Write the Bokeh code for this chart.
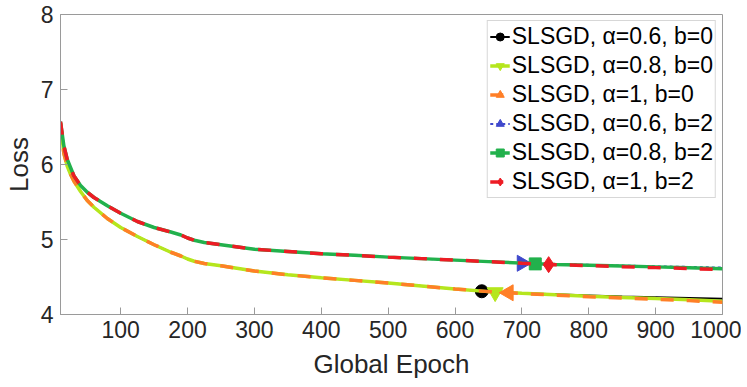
from bokeh.plotting import figure
from bokeh.models import Range1d, FixedTicker, Legend, LegendItem
from bokeh.embed import file_html
from bokeh.resources import INLINE
import math

epochs = [10, 15, 20, 25, 30, 40, 50, 60, 80, 100, 125, 150, 175, 190, 200, 210, 225, 250,
          300, 350, 400, 450, 500, 550, 600, 650, 700, 750, 800, 850, 900, 950, 1000]

loss_a06_b0 = [6.55, 6.15, 5.98, 5.87, 5.78, 5.64, 5.52, 5.43, 5.28, 5.16, 5.04, 4.93, 4.83, 4.78, 4.74, 4.71, 4.68, 4.65,
               4.58, 4.53, 4.49, 4.455, 4.42, 4.38, 4.34, 4.305, 4.285, 4.27, 4.255, 4.24, 4.23, 4.22, 4.21]
loss_a08_b0 = [6.55, 6.15, 5.98, 5.87, 5.78, 5.64, 5.52, 5.43, 5.28, 5.16, 5.04, 4.93, 4.83, 4.78, 4.74, 4.71, 4.68, 4.65,
               4.58, 4.53, 4.49, 4.455, 4.42, 4.38, 4.34, 4.305, 4.283, 4.262, 4.243, 4.228, 4.212, 4.197, 4.178]
loss_a1_b0 = [6.55, 6.15, 5.98, 5.87, 5.78, 5.64, 5.52, 5.43, 5.28, 5.16, 5.04, 4.93, 4.83, 4.78, 4.74, 4.71, 4.68, 4.65,
              4.58, 4.53, 4.49, 4.455, 4.42, 4.38, 4.34, 4.305, 4.28, 4.258, 4.238, 4.22, 4.203, 4.185, 4.162]
loss_a06_b2 = [6.57, 6.25, 6.07, 5.96, 5.85, 5.72, 5.63, 5.56, 5.45, 5.35, 5.24, 5.16, 5.10, 5.06, 5.02, 4.99, 4.96, 4.93,
               4.87, 4.84, 4.81, 4.79, 4.765, 4.745, 4.725, 4.705, 4.685, 4.672, 4.662, 4.652, 4.642, 4.634, 4.625]
loss_a08_b2 = [6.57, 6.25, 6.07, 5.96, 5.85, 5.72, 5.63, 5.56, 5.45, 5.35, 5.24, 5.16, 5.10, 5.06, 5.02, 4.99, 4.96, 4.93,
               4.87, 4.84, 4.81, 4.79, 4.765, 4.745, 4.725, 4.705, 4.685, 4.668, 4.657, 4.646, 4.635, 4.624, 4.61]
loss_a1_b2 = [6.57, 6.25, 6.07, 5.96, 5.85, 5.72, 5.63, 5.56, 5.45, 5.35, 5.24, 5.16, 5.10, 5.06, 5.02, 4.99, 4.96, 4.93,
              4.87, 4.84, 4.81, 4.79, 4.765, 4.745, 4.725, 4.705, 4.683, 4.664, 4.652, 4.638, 4.625, 4.613, 4.598]

marker_x = [640, 660, 680, 700, 720, 740]
marker_y = [4.31, 4.295, 4.29, 4.683, 4.675, 4.665]

labels = ["SLSGD, α=0.6, b=0", "SLSGD, α=0.8, b=0", "SLSGD, α=1, b=0",
          "SLSGD, α=0.6, b=2", "SLSGD, α=0.8, b=2", "SLSGD, α=1, b=2"]

x_ticks = [100, 200, 300, 400, 500, 600, 700, 800, 900, 1000]
y_ticks = [4, 5, 6, 7, 8]

series = [loss_a06_b0, loss_a08_b0, loss_a1_b0, loss_a06_b2, loss_a08_b2, loss_a1_b2]
colors = ["#000000", "#b5e61d", "#ff7f27", "#3f48cc", "#22b14c", "#ed1c24"]
widths = [2, 3.5, 3.5, 2, 3.5, 3.5]
dashes = ["solid", "solid", "13 13", "3 3", "solid", "13 13"]
markers = ["circle", "inverted_triangle", "triangle", "triangle", "square", "diamond"]
angles = [0, 0, math.pi / 2, -math.pi / 2, 0, 0]
msizes = [13, 16, 16, 16, 12, 16]

FONT = "Liberation Sans"
AXC = "#9a9a9a"
TXC = "#262626"

p = figure(frame_width=662, frame_height=300, output_backend="svg", toolbar_location=None,
           x_range=Range1d(10, 1000), y_range=Range1d(4, 8),
           min_border_left=48, min_border_right=19, min_border_top=14, min_border_bottom=60)
p.background_fill_color = "white"
p.border_fill_color = "white"
p.outline_line_color = AXC
p.xgrid.visible = False
p.ygrid.visible = False

def style_axis(ax):
    ax.axis_line_color = AXC
    ax.major_tick_line_color = AXC
    ax.major_tick_in = 7
    ax.major_tick_out = 0
    ax.minor_tick_line_color = None
    ax.major_label_text_font = FONT
    ax.major_label_text_color = TXC
    ax.axis_label_text_font = FONT
    ax.axis_label_text_color = TXC
    ax.axis_label_text_font_style = "normal"

for ax in p.xaxis:
    style_axis(ax)
    ax.ticker = FixedTicker(ticks=x_ticks)
    ax.major_label_text_font_size = "23px"
    ax.major_label_standoff = 6
    ax.axis_label = "Global Epoch"
    ax.axis_label_text_font_size = "26px"
    ax.axis_label_standoff = 8
for ax in p.yaxis:
    style_axis(ax)
    ax.ticker = FixedTicker(ticks=y_ticks)
    ax.major_label_text_font_size = "23px"
    ax.major_label_standoff = 7
    ax.axis_label = "Loss"
    ax.axis_label_text_font_size = "26px"
    ax.axis_label_standoff = 4

items = []
for i in range(6):
    lr = p.line(epochs, series[i], line_color=colors[i], line_width=widths[i], line_dash=dashes[i])
    mr = p.scatter([marker_x[i]], [marker_y[i]], marker=markers[i], size=msizes[i], angle=angles[i],
                   fill_color=colors[i], line_color=colors[i])
    items.append(LegendItem(label=labels[i], renderers=[lr, mr]))

legend = Legend(items=items, location="top_right")
legend.label_text_font = FONT
legend.label_text_font_size = "23px"
legend.label_text_color = "#000000"
legend.padding = 2
legend.margin = 6
legend.spacing = 2
legend.glyph_width = 20
legend.glyph_height = 27
legend.label_height = 27
legend.label_standoff = 2
legend.border_line_color = "#b0b0b0"
legend.border_line_width = 1
legend.background_fill_color = "white"
legend.background_fill_alpha = 1.0
p.add_layout(legend)

open("out.html", "w").write(file_html(p, INLINE))
